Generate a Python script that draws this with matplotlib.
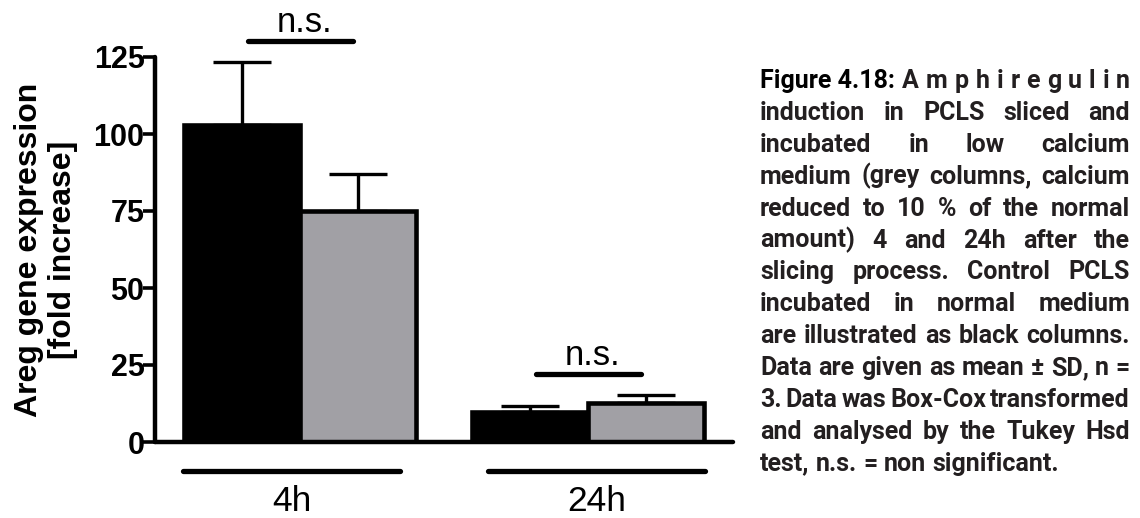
import matplotlib
matplotlib.use("Agg")
import matplotlib.pyplot as plt
from matplotlib import font_manager
from matplotlib.font_manager import FontProperties

# ---- data -------------------------------------------------------------
groups = ["4h", "24h"]
control_mean = [103.0, 9.8]      # normal medium (black columns)
control_sd = [20.5, 1.9]
lowca_mean = [75.0, 12.8]        # low calcium medium (grey columns)
lowca_sd = [12.0, 2.5]
sig_labels = ["n.s.", "n.s."]
y_ticks = [0, 25, 50, 75, 100, 125]
y_label = "Areg gene expression\n[fold increase]"

caption_lines = [
    "Figure\u00a04.18: A m p h i r e g u l i n",
    "induction in PCLS sliced and",
    "incubated in low calcium",
    "medium (grey columns, calcium",
    "reduced to 10 % of the normal",
    "amount) 4 and 24h after the",
    "slicing process. Control PCLS",
    "incubated in normal medium",
    "are illustrated as black columns.",
    "Data are given as mean \u00b1 SD, n =",
    "3. Data was Box-Cox transformed",
    "and analysed by the Tukey Hsd",
    "test, n.s. = non significant.",
]

# ---- figure ------------------------------------------------------------
W_PX, H_PX = 1140, 518
fig = plt.figure(figsize=(W_PX / 100, H_PX / 100), dpi=100)
ax = fig.add_axes([155 / W_PX, 1 - 442 / H_PX, (733 - 155) / W_PX, 385 / H_PX])

arial = "Liberation Sans"
bar_w = 1.0
group_x = [0.0, 2.483]
grey = "#a1a0a5"

for gx, cm, cs, lm, ls in zip(group_x, control_mean, control_sd, lowca_mean, lowca_sd):
    xs = [gx - bar_w / 2, gx + bar_w / 2]
    ax.errorbar(xs, [cm, lm], yerr=[[0, 0], [cs, ls]], fmt="none", ecolor="black",
                elinewidth=2.4, capsize=21, capthick=2.4, zorder=1)
    ax.bar(xs, [cm, lm], width=bar_w, color=["black", grey], edgecolor="black",
           linewidth=3.3, zorder=2)

ax.set_xlim(-1.25, 3.733)
ax.set_ylim(0, 125)
ax.set_yticks(y_ticks)
ax.set_yticklabels([str(t) for t in y_ticks], fontfamily=arial, fontweight="bold",
                   fontsize=22)
ax.tick_params(axis="y", length=9, width=2.6, pad=-1.5, color="black")
ax.set_xticks([])
for side in ("top", "right"):
    ax.spines[side].set_visible(False)
for side in ("left", "bottom"):
    ax.spines[side].set_linewidth(3.2)
    ax.spines[side].set_capstyle("round")

fig.text(46 / W_PX, 1 - 249.5 / H_PX, y_label, rotation=90, ha="center", va="center",
         multialignment="center", fontfamily=arial, fontweight="bold", fontsize=23,
         linespacing=1.2)

# group bars and labels beneath the axis
under_y = -9.4
for i, (gx, name) in enumerate(zip(group_x, groups)):
    if i == 0:
        x0, x1 = gx - 1.01, gx + 0.866
    else:
        x0, x1 = gx - 0.866, gx + 1.01
    ax.plot([x0, x1], [under_y, under_y], color="black", lw=3.8,
            solid_capstyle="round", clip_on=False)
    ax.text((x0 + x1) / 2, -14.0, name, ha="center", va="top", fontfamily=arial,
            fontsize=25.5, clip_on=False)

# significance brackets
for gx, cm, cs, lm, ls, lab in zip(group_x, control_mean, control_sd, lowca_mean,
                                    lowca_sd, sig_labels):
    top = max(cm + cs, lm + ls)
    line_y = top + 6.8
    ax.plot([gx - 0.45, gx + 0.46], [line_y, line_y], color="black", lw=3.8,
            solid_capstyle="round", clip_on=False)
    ax.text(gx + 0.04, line_y + 2.9, lab, ha="center", va="baseline",
            fontfamily=arial, fontsize=25, clip_on=False)

# ---- justified caption ---------------------------------------------------
def pick_caption_font():
    """First family in the list that has a real bold face installed."""
    for fam in ["Roboto", "Open Sans", "Noto Sans"]:
        weights = [f.weight for f in font_manager.fontManager.ttflist
                   if f.name == fam and f.style == "normal"]
        numeric = []
        for w in weights:
            if isinstance(w, str):
                w = font_manager.weight_dict.get(w, 400)
            numeric.append(w)
        bold = [w for w in numeric if 650 <= w <= 800]
        if bold:
            return fam, min(bold, key=lambda v: abs(v - 700))
    return "DejaVu Sans", "bold"


cap_font, cap_weight = pick_caption_font()

fig.canvas.draw()
renderer = fig.canvas.get_renderer()
cap_left, cap_right = 760, 1130
cap_w = cap_right - cap_left
baseline0, step = 88, 31.9
cap_color = "#231f20"


def word_width(word, size):
    fp = FontProperties(family=cap_font, weight=cap_weight, size=size)
    t = fig.text(0, 0, word, fontproperties=fp)
    w = t.get_window_extent(renderer).width
    t.remove()
    return w


ref = 10.0
space_ref = word_width("a a", ref) - word_width("aa", ref)
fits = []
for line in caption_lines[:-1]:
    words = line.split(" ")
    nat = sum(word_width(w, ref) for w in words) + 0.6 * space_ref * (len(words) - 1)
    fits.append(ref * cap_w / nat)
size = min(min(fits), 18.0)
space = space_ref * size / ref

for k, line in enumerate(caption_lines):
    words = line.split(" ")
    widths = [word_width(w, size) for w in words]
    if k < len(caption_lines) - 1 and len(words) > 1:
        gap = (cap_w - sum(widths)) / (len(words) - 1)
    else:
        gap = space
    x = cap_left
    y = 1 - (baseline0 + k * step) / H_PX
    for w, wd in zip(words, widths):
        col = "black" if w.startswith("Figure") or w == "4.18:" else cap_color
        fig.text(x / W_PX, y, w.replace("\u00a0", " "), ha="left", va="baseline",
                 fontfamily=cap_font, fontweight=cap_weight, fontsize=size, color=col)
        x += wd + gap

fig.savefig("out.png", dpi=100)
